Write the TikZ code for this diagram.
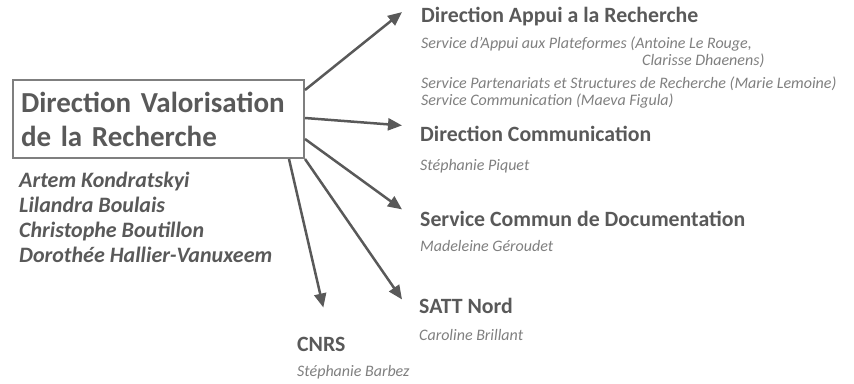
\documentclass[tikz,border=0pt]{standalone}
\usepackage{fontspec}
\setmainfont{Carlito}
\usetikzlibrary{arrows.meta}
\definecolor{hdgrey}{HTML}{595959}
\definecolor{subgrey}{HTML}{7F7F7F}
\tikzset{
  head/.style={anchor=base west, inner sep=0pt, text=hdgrey,
    font=\fontsize{21.8}{24}\selectfont\bfseries},
  sub/.style={anchor=base west, inner sep=0pt, text=subgrey, align=left,
    font=\fontsize{16}{17}\selectfont\itshape},
  arr/.style={draw=hdgrey, line width=2.5pt, -{Triangle[length=14pt,width=12pt]}},
}
\begin{document}
\begin{tikzpicture}[x=1pt,y=-1pt]
\useasboundingbox (0,0) rectangle (854,383);
% central box
\node[draw=subgrey, line width=2pt, anchor=north west, text=hdgrey, align=left,
  text width=275pt, inner xsep=8pt, minimum height=78pt,
  font=\fontsize{29}{34}\selectfont\bfseries] (dvr) at (12,79)
  {Direction Valorisation\\de la Recherche};
% multi-line nodes: base is the last line
\node[anchor=base west, inner sep=0pt, text=hdgrey, align=left,
  font=\fontsize{22}{25}\selectfont\bfseries\itshape] (dvrnames) at (19,262)
  {Artem Kondratskyi\\Lilandra Boulais\\Christophe Boutillon\\Doroth\'ee Hallier-Vanuxeem};
% directions
\node[head] (dar) at (421,22) {Direction Appui a la Recherche};
\node[sub] (darsub) at (421,105) {Service d'Appui aux Plateformes (Antoine Le Rouge,\\
  \hspace*{221pt}Clarisse Dhaenens)\\[6pt]
  Service Partenariats et Structures de Recherche (Marie Lemoine)\\
  Service Communication (Maeva Figula)};
\node[head] (dco) at (420,141) {Direction Communication};
\node[sub] (dcosub) at (420,170) {St\'ephanie Piquet};
\node[head] (scd) at (420,226) {Service Commun de Documentation};
\node[sub] (scdsub) at (420,251) {Madeleine G\'eroudet};
\node[head] (satt) at (419,313) {SATT Nord};
\node[sub] (sattsub) at (419,340) {Caroline Brillant};
\node[head] (cnrs) at (297,351) {CNRS};
\node[sub] (cnrssub) at (297,376) {St\'ephanie Barbez};
% arrows
\draw[arr] ([shift={(0,11)}]dvr.north east) -- ([shift={(-19,-4)}]dar.west);
\draw[arr] ([shift={(0,-1)}]dvr.east) -- ([shift={(-18,-8)}]dco.west);
\draw[arr] ([shift={(0,20)}]dvr.east) -- ([shift={(-18,-9)}]scd.west);
\draw[arr] (dvr.south east) -- ([shift={(-17,-6)}]satt.west);
\draw[arr] ([shift={(-16,0)}]dvr.south east) -- ([shift={(2,-29)}]cnrs.north);
\end{tikzpicture}
\end{document}
